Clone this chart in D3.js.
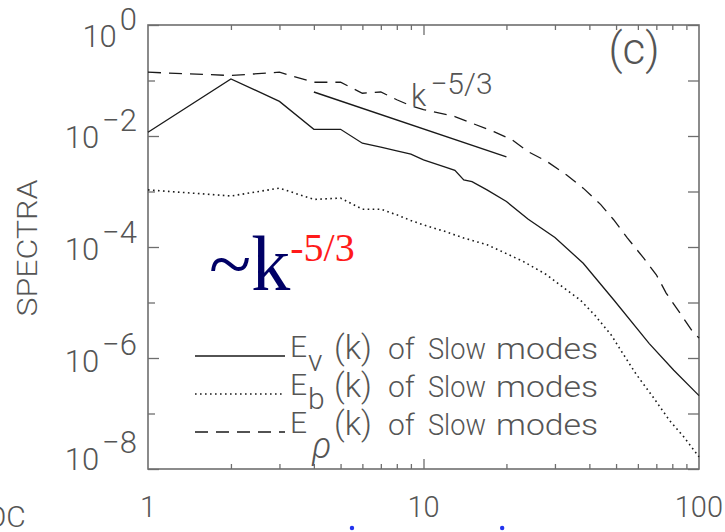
<!DOCTYPE html>
<html>
<head>
<meta charset="utf-8">
<script src="https://cdn.jsdelivr.net/npm/d3@7"></script>
<style>
  body { margin: 0; background: #fff; }
  .idl { font-family: Roboto, "Liberation Sans", sans-serif; font-weight: 300; fill: #555; }
</style>
</head>
<body>
<svg id="chart"></svg>
<script>
// wavenumbers and spectra
const evK = [1, 2, 3, 4, 5, 6, 7, 8, 9, 10, 12, 13, 14, 15, 17, 20, 24, 30, 38, 49, 66, 81, 100];
const evVal = [1.17e-2, 1.07e-1, 4.2e-2, 1.32e-2, 1.32e-2, 7.4e-3, 6.3e-3, 5.4e-3, 4.7e-3, 3.7e-3,
  2.75e-3, 2.4e-3, 1.62e-3, 1.51e-3, 1.07e-3, 6.6e-4, 3.16e-4, 1.48e-4, 5.1e-5, 1.12e-5, 1.82e-6, 6.0e-7, 2.1e-7];

const ebK = [1, 2, 3, 4, 5, 6, 7, 8, 9, 10, 12, 14, 17, 20, 23, 28, 32, 37, 42, 48, 52, 59, 68, 78, 88, 100];
const ebVal = [1.07e-3, 8.3e-4, 1.15e-3, 7.2e-4, 7.6e-4, 4.8e-4, 4.8e-4, 3.8e-4, 3.0e-4, 2.5e-4,
  1.9e-4, 1.45e-4, 1.1e-4, 7.6e-5, 5.5e-5, 3.16e-5, 1.9e-5, 1.12e-5, 5.8e-6, 2.6e-6, 1.38e-6, 5.2e-7, 2.0e-7, 7.6e-8, 3.8e-8, 1.66e-8];

const erK = [1, 2, 3, 4, 5, 6, 7, 8, 9, 10, 13, 15, 18, 21, 24, 28, 33, 38, 44, 49, 55, 63, 70, 76, 84, 95, 100];
const erVal = [0.141, 0.123, 0.141, 0.093, 0.093, 0.059, 0.062, 0.045, 0.035, 0.030, 0.0224, 0.017, 0.012,
  8.5e-3, 5.2e-3, 3.5e-3, 2.0e-3, 1.15e-3, 5.8e-4, 3.1e-4, 1.45e-4, 6.3e-5, 3.16e-5, 1.48e-5, 7.2e-6, 2.95e-6, 2.3e-6];

// k^-5/3 guide segment
const refK = [4, 20];
const refVal = [0.062, 0.0042];

const yTickExp = [0, -2, -4, -6, -8];
const xTickLabels = ['1', '10', '100'];
const legendNames = ['v', 'b', 'ρ'];

const width = 725;
const height = 532;
const margin = { top: 25, right: 26, bottom: 63, left: 148 };

const svg = d3.select('#chart')
  .attr('width', width)
  .attr('height', height);

const x = d3.scaleLog()
  .domain([1, 100])
  .range([margin.left, width - margin.right]);
const y = d3.scaleLog()
  .domain([1e-8, 1])
  .range([height - margin.bottom, margin.top]);

const frameColor = '#6e6e6e';

// minor / major tick values
const xMinor = [2, 3, 4, 5, 6, 7, 8, 9, 20, 30, 40, 50, 60, 70, 80, 90];
const xMajor = [10];
const yAll = d3.range(-8, 1).map(e => Math.pow(10, e));
const yMajor = yTickExp.map(e => Math.pow(10, e));
const yMinor = [-1, -3, -5, -7].map(e => Math.pow(10, e));

function tickAxis(axis, translate) {
  const g = svg.append('g')
    .attr('transform', translate)
    .call(axis);
  g.select('.domain').remove();
  g.selectAll('.tick line').attr('stroke', frameColor).attr('stroke-width', 1.3);
  g.selectAll('.tick text').remove();
  return g;
}

const xb = `translate(0,${height - margin.bottom})`;
const xt = `translate(0,${margin.top})`;
tickAxis(d3.axisBottom(x).tickValues(xMinor).tickSize(-5), xb);
tickAxis(d3.axisBottom(x).tickValues(xMajor).tickSize(-10), xb);
tickAxis(d3.axisTop(x).tickValues(xMinor).tickSize(-5), xt);
tickAxis(d3.axisTop(x).tickValues(xMajor).tickSize(-10), xt);

const yl = `translate(${margin.left},0)`;
const yr = `translate(${width - margin.right},0)`;
tickAxis(d3.axisLeft(y).tickValues(yMajor).tickSize(-11), yl);
tickAxis(d3.axisLeft(y).tickValues(yMinor).tickSize(-7), yl);
tickAxis(d3.axisRight(y).tickValues(yAll).tickSize(-11), yr);

// frame
svg.append('rect')
  .attr('x', margin.left)
  .attr('y', margin.top)
  .attr('width', width - margin.left - margin.right)
  .attr('height', height - margin.top - margin.bottom)
  .attr('fill', 'none')
  .attr('stroke', frameColor)
  .attr('stroke-width', 1.6);

// y tick labels 10^n; IDL puts them a little off-centre, top and bottom ones most
const labelShift = [22, 12, 13, 14, 1];
const yLab = svg.selectAll('.ylab')
  .data(yTickExp)
  .join('text')
    .attr('class', 'idl ylab')
    .attr('text-anchor', 'end')
    .attr('x', margin.left - 11)
    .attr('y', (d, i) => y(Math.pow(10, d)) + labelShift[i])
    .attr('font-size', 31);
yLab.append('tspan').text('10');
yLab.append('tspan')
  .attr('dy', -17)
  .attr('dx', 3)
  .text(d => d === 0 ? '0' : '\u2212' + (-d));

// x tick labels
svg.selectAll('.xlab')
  .data(xTickLabels)
  .join('text')
    .attr('class', 'idl xlab')
    .attr('text-anchor', (d, i) => i === 2 ? 'end' : 'middle')
    .attr('x', (d, i) => i === 2 ? width - 2 : x(+d))
    .attr('y', 517)
    .attr('font-size', 29)
    .text(d => d);

// axis title
svg.append('text')
  .attr('class', 'idl')
  .attr('transform', 'translate(37,248) rotate(-90)')
  .attr('text-anchor', 'middle')
  .attr('font-size', 28)
  .attr('textLength', 137)
  .attr('lengthAdjust', 'spacingAndGlyphs')
  .text('SPECTRA');

// curves
const line = d3.line()
  .x(d => x(d[0]))
  .y(d => y(d[1]));

const series = [
  { k: evK, v: evVal, dash: null, width: 1.3 },
  { k: ebK, v: ebVal, dash: '1.6,3.4', width: 1.6 },
  { k: erK, v: erVal, dash: '13,8', width: 1.3 }
];

svg.append('g')
  .selectAll('path')
  .data(series)
  .join('path')
    .attr('d', s => line(s.k.map((k, i) => [k, s.v[i]])))
    .attr('fill', 'none')
    .attr('stroke', '#1a1a1a')
    .attr('stroke-width', s => s.width)
    .attr('stroke-dasharray', s => s.dash);

svg.append('path')
  .attr('d', line(refK.map((k, i) => [k, refVal[i]])))
  .attr('fill', 'none')
  .attr('stroke', '#1a1a1a')
  .attr('stroke-width', 1.4);

// k^-5/3 annotation near guide line
const kAnn = svg.append('text')
  .attr('class', 'idl')
  .attr('x', 411)
  .attr('y', 106)
  .attr('font-size', 31);
kAnn.append('tspan').text('k');
kAnn.append('tspan').attr('dy', -12).attr('dx', 4).attr('font-size', 30).text('\u22125/3');

// panel label
svg.append('text')
  .attr('class', 'idl')
  .attr('x', 634)
  .attr('y', 64)
  .attr('text-anchor', 'middle')
  .attr('font-size', 44)
  .text('(c)');

// big coloured ~k^-5/3
const big = svg.append('text')
  .attr('x', 209)
  .attr('y', 290)
  .attr('font-family', '"Liberation Serif", "Times New Roman", serif');
big.append('tspan').attr('font-size', 78).attr('fill', '#000066').text('~k');
big.append('tspan').attr('font-size', 40).attr('fill', '#ff1a1a').attr('dy', -29).attr('dx', 0).text('-5/3');

// legend
const legY = [356, 394, 432];
const leg = svg.append('g');
leg.selectAll('line')
  .data(series)
  .join('line')
    .attr('x1', 195)
    .attr('x2', 285)
    .attr('y1', (d, i) => legY[i])
    .attr('y2', (d, i) => legY[i])
    .attr('stroke', '#1a1a1a')
    .attr('stroke-width', s => s.width)
    .attr('stroke-dasharray', s => s.dash);

const legText = leg.selectAll('text.leg')
  .data(legendNames)
  .join('text')
    .attr('class', 'idl leg')
    .attr('y', (d, i) => legY[i] + 1)
    .attr('font-size', 30);
legText.append('tspan').attr('x', 290).text('E');
legText.append('tspan')
  .attr('x', (d, i) => i === 2 ? 312 : 308)
  .attr('dy', (d, i) => i === 2 ? 25 : 14)
  .attr('font-style', (d, i) => i === 2 ? 'italic' : null)
  .attr('font-size', (d, i) => i === 2 ? 36 : 30)
  .text(d => d);
legText.append('tspan')
  .attr('x', 334)
  .attr('dy', (d, i) => i === 2 ? -23 : -12)
  .attr('font-size', 34)
  .attr('textLength', 38)
  .attr('lengthAdjust', 'spacingAndGlyphs')
  .text('(k)');
legText.append('tspan').attr('x', 388).text('of');
legText.append('tspan').attr('x', 428).attr('textLength', 58).attr('lengthAdjust', 'spacingAndGlyphs').text('Slow');
legText.append('tspan').attr('x', 496).attr('textLength', 102).attr('lengthAdjust', 'spacingAndGlyphs').text('modes');

// stray bits at the picture's edge
svg.append('text')
  .attr('class', 'idl')
  .attr('x', -14)
  .attr('y', 527)
  .attr('font-size', 30)
  .text('OC');

svg.selectAll('circle.dot')
  .data([5.5, 19.3])
  .join('circle')
    .attr('class', 'dot')
    .attr('cx', d => x(d))
    .attr('cy', 528)
    .attr('r', 2.2)
    .attr('fill', '#2233ee');
</script>
</body>
</html>
